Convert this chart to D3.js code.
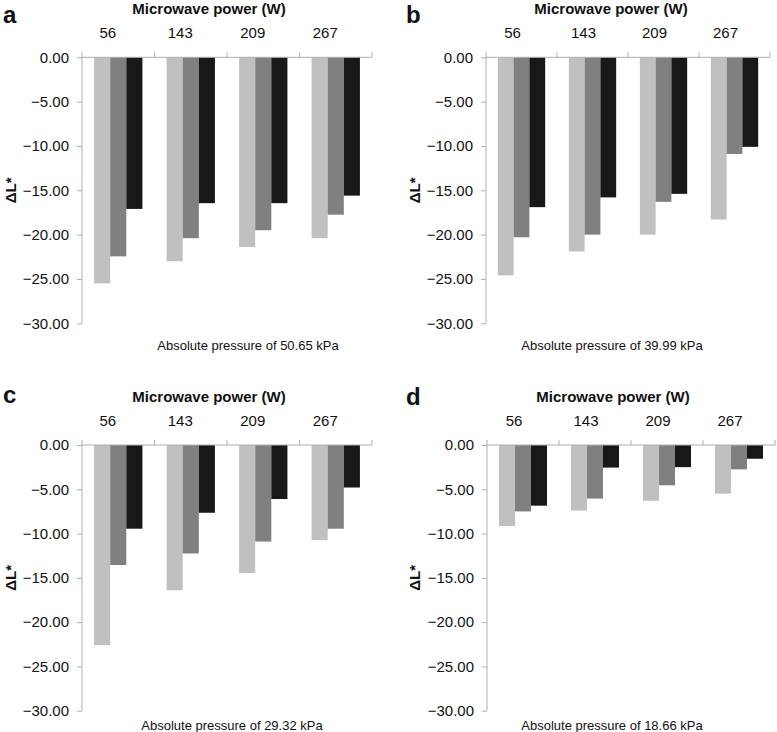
<!DOCTYPE html>
<html>
<head>
<meta charset="utf-8">
<script src="https://cdn.jsdelivr.net/npm/d3@7"></script>
<style>
  body { margin: 0; background: #fff; }
  svg { display: block; font-family: "Liberation Sans", Arial, sans-serif; }
</style>
</head>
<body>
<svg id="chart" width="777" height="732"></svg>
<script>
/* ------------------------------- data -------------------------------- */
const categories = ['56', '143', '209', '267'];
const yTicks     = [0, -5, -10, -15, -20, -25, -30];

const aLight = [-25.5, -23.0, -21.4, -20.4];
const aMid   = [-22.45, -20.4, -19.5, -17.75];
const aDark  = [-17.1, -16.45, -16.45, -15.6];

const bLight = [-24.6, -21.9, -20.0, -18.3];
const bMid   = [-20.3, -20.0, -16.3, -10.9];
const bDark  = [-16.9, -15.8, -15.4, -10.1];

const cLight = [-22.6, -16.4, -14.45, -10.75];
const cMid   = [-13.55, -12.25, -10.9, -9.45];
const cDark  = [-9.45, -7.65, -6.1, -4.8];

const dLight = [-9.15, -7.4, -6.3, -5.5];
const dMid   = [-7.5, -6.05, -4.55, -2.75];
const dDark  = [-6.85, -2.55, -2.5, -1.55];

const pressures = ['50.65', '39.99', '29.32', '18.66'];
const letters   = ['a', 'b', 'c', 'd'];

const COLORS = ['#c0c0c0', '#808080', '#181818'];
const AXIS   = '#b0b0b0';

/* ------------------------------- layout ------------------------------ */
const panels = [
  {series: [aLight, aMid, aDark], x0: 82,  x1: 372, y0: 57.3, y30: 323.3, lx: 3,   ly: 23,  tx: 209, sx: 248, sy: 350, yl: 11,  co: -10.5},
  {series: [bLight, bMid, bDark], x0: 486, x1: 770, y0: 57.3, y30: 323.3, lx: 406, ly: 23,  tx: 611, sx: 612, sy: 350, yl: 415, co: -9},
  {series: [cLight, cMid, cDark], x0: 82,  x1: 372, y0: 445,  y30: 710.7, lx: 3,   ly: 403, tx: 209, sx: 232, sy: 730, yl: 11,  co: -10.5},
  {series: [dLight, dMid, dDark], x0: 487, x1: 775, y0: 445,  y30: 710.7, lx: 406, ly: 405, tx: 613, sx: 612, sy: 730, yl: 415, co: -9}
];

const svg = d3.select('#chart');

panels.forEach((p, i) => {
  const g = svg.append('g');

  const y  = d3.scaleLinear().domain([-30, 0]).range([p.y30, p.y0]);
  const x  = d3.scaleBand().domain(categories).range([p.x0, p.x1]).padding(0);
  const xs = d3.scaleBand().domain([0, 1, 2]).range([0, x.bandwidth()])
               .paddingInner(0).paddingOuter(0.75);

  // bars
  p.series.forEach((vals, s) => {
    g.selectAll(null)
      .data(vals)
      .enter()
      .append('rect')
      .attr('x', (d, k) => x(categories[k]) + xs(s))
      .attr('y', y(0))
      .attr('width', xs.bandwidth())
      .attr('height', d => y(d) - y(0))
      .attr('fill', COLORS[s]);
  });

  // y axis
  const yAxisG = g.append('g')
    .attr('transform', `translate(${p.x0},0)`)
    .call(d3.axisLeft(y).tickValues(yTicks).tickSize(5).tickPadding(8)
      .tickFormat(d => d3.format('.2f')(d)));
  yAxisG.select('.domain').attr('stroke', AXIS).attr('d', `M0,${y(-30)}V${y(0)}`);
  yAxisG.selectAll('.tick line').attr('stroke', AXIS);
  yAxisG.selectAll('.tick text').attr('font-size', 15).attr('fill', '#111')
    .attr('font-family', '"Liberation Sans", Arial, sans-serif');

  // category axis at zero, ticks between groups pointing up
  const bounds = categories.map(c => x(c)).concat([p.x1]);
  g.append('line')
    .attr('x1', p.x0).attr('x2', p.x1)
    .attr('y1', y(0)).attr('y2', y(0))
    .attr('stroke', AXIS);
  g.selectAll(null)
    .data(bounds)
    .enter()
    .append('line')
    .attr('x1', d => d).attr('x2', d => d)
    .attr('y1', y(0)).attr('y2', y(0) - 5)
    .attr('stroke', AXIS);
  g.selectAll(null)
    .data(categories)
    .enter()
    .append('text')
    .attr('x', d => x(d) + x.bandwidth() / 2 + p.co)
    .attr('y', y(0) - 19.5)
    .attr('text-anchor', 'middle')
    .attr('font-size', 15)
    .attr('fill', '#111')
    .text(d => d);

  // titles & labels
  g.append('text')
    .attr('x', p.tx).attr('y', y(0) - 43.5)
    .attr('text-anchor', 'middle')
    .attr('font-size', 15).attr('font-weight', 'bold')
    .attr('fill', '#111')
    .text('Microwave power (W)');

  g.append('text')
    .attr('x', p.lx).attr('y', p.ly)
    .attr('font-size', 24).attr('font-weight', 'bold')
    .attr('fill', '#111')
    .text(letters[i]);

  g.append('text')
    .attr('transform', `translate(${p.yl + 5},${(y(0) + y(-30)) / 2}) rotate(-90)`)
    .attr('text-anchor', 'middle')
    .attr('font-size', 15).attr('font-weight', 'bold')
    .attr('fill', '#111')
    .text('ΔL*');

  g.append('text')
    .attr('x', p.sx).attr('y', p.sy)
    .attr('text-anchor', 'middle')
    .attr('font-size', 13)
    .attr('fill', '#111')
    .text(`Absolute pressure of ${pressures[i]} kPa`);
});
</script>
</body>
</html>
